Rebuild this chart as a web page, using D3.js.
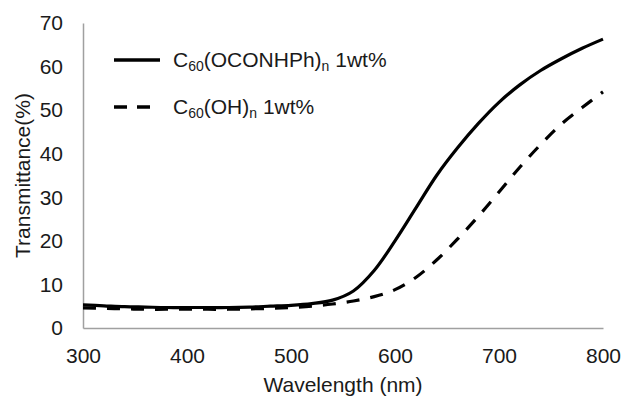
<!DOCTYPE html>
<html>
<head>
<meta charset="utf-8">
<script src="https://cdn.jsdelivr.net/npm/d3@7"></script>
<style>
  body { margin: 0; background: #fff; }
  text { font-family: "Liberation Sans", Arial, sans-serif; fill: #1a1a1a; }
</style>
</head>
<body>
<div id="chart"></div>
<script>
// wavelength (nm)
const wavelengths = [300, 320, 340, 360, 380, 400, 420, 440, 460, 480, 500, 520, 540, 560,
  580, 600, 620, 640, 660, 680, 700, 720, 740, 760, 780, 800];
// C60(OCONHPh)n 1wt%
const seriesPh = [5.3, 5.1, 4.9, 4.8, 4.7, 4.7, 4.7, 4.7, 4.8, 5.0, 5.2, 5.6, 6.4, 8.5,
  13.2, 20.0, 27.5, 35.0, 41.3, 46.9, 51.8, 55.8, 59.1, 61.8, 64.2, 66.3];
// C60(OH)n 1wt%
const seriesOH = [4.6, 4.5, 4.4, 4.3, 4.3, 4.3, 4.3, 4.3, 4.4, 4.5, 4.7, 5.0, 5.5, 6.2,
  7.2, 8.8, 11.6, 15.6, 20.4, 25.6, 31.2, 36.9, 42.1, 46.8, 50.6, 54.2];
const xTicks = [300, 400, 500, 600, 700, 800];
const yTicks = [0, 10, 20, 30, 40, 50, 60, 70];

const width = 624, height = 397;
const margin = { top: 23, right: 21, bottom: 69, left: 83 };
const fontSize = "21px";

const svg = d3.select("#chart").append("svg")
  .attr("width", width)
  .attr("height", height);

const x = d3.scaleLinear().domain([300, 800]).range([margin.left, width - margin.right]);
const y = d3.scaleLinear().domain([0, 70]).range([height - margin.bottom, margin.top]);

// axes, Excel style: grey line, no tick marks
const xAxis = svg.append("g")
  .attr("transform", `translate(0,${y(0)})`)
  .call(d3.axisBottom(x).tickValues(xTicks).tickSize(0).tickPadding(20));
xAxis.select(".domain").attr("stroke", "#a0a0a0").attr("stroke-width", 1.5);
xAxis.selectAll("text").style("font-size", fontSize).attr("fill", "#1a1a1a");

const yAxis = svg.append("g")
  .attr("transform", `translate(${x(300)},0)`)
  .call(d3.axisLeft(y).tickValues(yTicks).tickSize(0).tickPadding(20));
yAxis.select(".domain").attr("stroke", "#a0a0a0").attr("stroke-width", 1.5);
yAxis.selectAll("text").style("font-size", fontSize).attr("fill", "#1a1a1a");

svg.append("text")
  .attr("x", (x(300) + x(800)) / 2)
  .attr("y", 392)
  .attr("text-anchor", "middle")
  .style("font-size", fontSize)
  .text("Wavelength (nm)");

svg.append("text")
  .attr("transform", `translate(30,${(y(0) + y(70)) / 2}) rotate(-90)`)
  .attr("text-anchor", "middle")
  .style("font-size", fontSize)
  .text("Transmittance(%)");

const line = d3.line()
  .x(d => x(d[0]))
  .y(d => y(d[1]))
  .curve(d3.curveCatmullRom.alpha(0.5));

const series = [
  { name: "Ph", values: seriesPh, dash: null },
  { name: "OH", values: seriesOH, dash: "13,11" }
];

svg.selectAll(".series")
  .data(series)
  .enter()
  .append("path")
  .attr("class", "series")
  .attr("d", d => line(wavelengths.map((w, i) => [w, d.values[i]])))
  .attr("fill", "none")
  .attr("stroke", "#000")
  .attr("stroke-width", 3.2)
  .attr("stroke-dasharray", d => d.dash);

// legend
const legend = svg.append("g");
const legendRows = [
  { y: 60, dash: null, parts: [["C", 0], ["60", 1], ["(OCONHPh)", 0], ["n", 1], [" 1wt%", 0]] },
  { y: 107, dash: "13,10", parts: [["C", 0], ["60", 1], ["(OH)", 0], ["n", 1], [" 1wt%", 0]] }
];
legendRows.forEach(row => {
  legend.append("line")
    .attr("x1", 114).attr("x2", 160)
    .attr("y1", row.y).attr("y2", row.y)
    .attr("stroke", "#000")
    .attr("stroke-width", 3.5)
    .attr("stroke-dasharray", row.dash);
  const t = legend.append("text")
    .attr("x", 173)
    .attr("y", row.y + 7)
    .style("font-size", fontSize);
  let shift = 0;
  row.parts.forEach(p => {
    const target = p[1] ? 4 : 0;
    t.append("tspan")
      .attr("dy", target - shift)
      .style("font-size", p[1] ? "14px" : fontSize)
      .text(p[0]);
    shift = target;
  });
});
</script>
</body>
</html>
